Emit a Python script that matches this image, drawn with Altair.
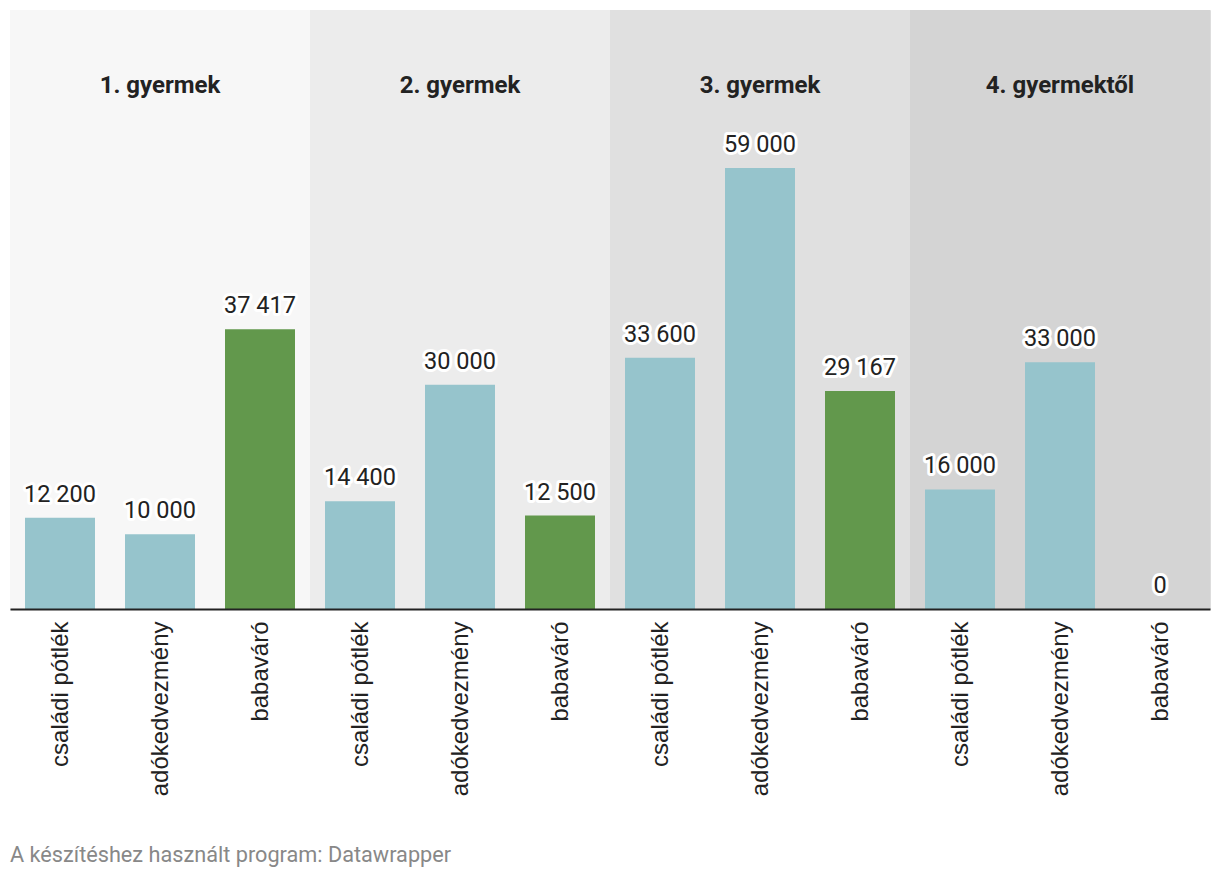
import json
import altair as alt
import pandas as pd

groups = ["1. gyermek", "2. gyermek", "3. gyermek", "4. gyermektől"]
categories = ["családi pótlék", "adókedvezmény", "babaváró"]
values_g1 = [12200, 10000, 37417]
values_g2 = [14400, 30000, 12500]
values_g3 = [33600, 59000, 29167]
values_g4 = [16000, 33000, 0]
band_colors = ["#f7f7f7", "#ececec", "#e0e0e0", "#d4d4d4"]
bar_colors = ["#96c4cc", "#96c4cc", "#62984c"]

all_values = [values_g1, values_g2, values_g3, values_g4]

W, H = 1200, 599
YMAX = 80140

rows = []
for gi, vals in enumerate(all_values):
    for ci, v in enumerate(vals):
        i = gi * 3 + ci
        rows.append({
            "group": groups[gi],
            "cat": categories[ci],
            "value": v,
            "label": f"{v:,}".replace(",", " "),
            "xs": i + 0.15,
            "xe": i + 0.85,
            "xm": i + 0.5,
            "color": bar_colors[ci],
            "zero": 0,
        })
bars_df = pd.DataFrame(rows)

bands_df = pd.DataFrame({
    "group": groups,
    "x0": [g * 3 for g in range(len(groups))],
    "x1": [g * 3 + 3 for g in range(len(groups))],
    "xm": [g * 3 + 1.5 for g in range(len(groups))],
    "top": [YMAX] * len(groups),
    "bottom": [0] * len(groups),
    "color": band_colors,
})

n = len(groups) * 3
xscale = alt.Scale(domain=[0, n], nice=False, zero=False)
yscale = alt.Scale(domain=[0, YMAX], nice=False, zero=True)

label_expr = f"{json.dumps(categories, ensure_ascii=False)}[round(datum.value - 0.5) % 3]"

xaxis = alt.Axis(
    values=[i + 0.5 for i in range(n)],
    labelExpr=label_expr,
    labelAngle=270,
    labelAlign="right",
    labelBaseline="middle",
    labelPadding=12,
    labelFont="Liberation Sans",
    labelFontSize=24,
    labelColor="#222222",
    ticks=False,
    tickSize=0,
    grid=False,
    domain=True,
    domainColor="#222222",
    domainWidth=2,
    title=None,
    zindex=2,
)

bands = alt.Chart(bands_df).mark_rect().encode(
    x=alt.X("x0:Q", scale=xscale, axis=xaxis),
    x2="x1:Q",
    y=alt.Y("top:Q", scale=yscale, axis=None),
    y2="bottom:Q",
    color=alt.Color("color:N", scale=None),
)

titles = alt.Chart(bands_df).mark_text(
    font="Roboto", fontSize=24, fontWeight="bold", color="#222222",
    baseline="alphabetic", align="center",
).encode(
    x=alt.X("xm:Q", scale=xscale),
    y=alt.value(83),
    text="group:N",
)

bars = alt.Chart(bars_df).mark_rect().encode(
    x=alt.X("xs:Q", scale=xscale),
    x2="xe:Q",
    y=alt.Y("value:Q", scale=yscale),
    y2="zero:Q",
    color=alt.Color("color:N", scale=None),
)

halo = alt.Chart(bars_df).mark_text(
    font="Roboto", fontSize=23.5, color="white", stroke="white", strokeWidth=6,
    strokeJoin="round", baseline="alphabetic", align="center", dy=-16,
).encode(
    x=alt.X("xm:Q", scale=xscale),
    y=alt.Y("value:Q", scale=yscale),
    text="label:N",
)

vlabels = alt.Chart(bars_df).mark_text(
    font="Roboto", fontSize=23.5, color="#222222",
    baseline="alphabetic", align="center", dy=-16,
).encode(
    x=alt.X("xm:Q", scale=xscale),
    y=alt.Y("value:Q", scale=yscale),
    text="label:N",
)

footer = alt.Chart(pd.DataFrame({"t": ["A készítéshez használt program: Datawrapper"]})).mark_text(
    font="Roboto", fontSize=21.7, color="#888888", align="left", baseline="alphabetic",
).encode(
    x=alt.value(0),
    y=alt.value(852),
    text="t:N",
)

chart = alt.layer(bands, titles, bars, halo, vlabels, footer).properties(
    width=W, height=H,
    padding={"left": 2, "top": 2, "right": 2, "bottom": 2},
).configure_view(stroke=None).configure(background="white")

chart.save("out.html", embed_options={"renderer": "svg", "actions": False})
